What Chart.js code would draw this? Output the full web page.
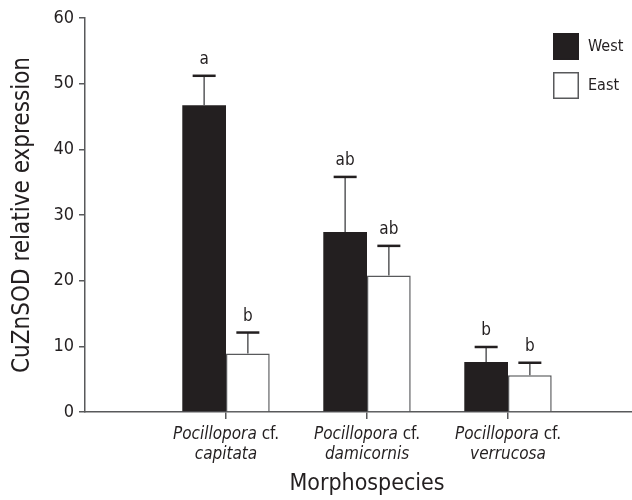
<!DOCTYPE html>
<html>
<head>
<meta charset="utf-8">
<script src="https://cdn.jsdelivr.net/npm/chart.js@4"></script>
<style>
  html, body { margin: 0; padding: 0; background: #fff; overflow: hidden; }
  #wrap { width: 649px; height: 500px; position: relative; }
</style>
</head>
<body>
<div id="wrap"><canvas id="grafico"></canvas></div>
<script>
// dados (slots vazios nas pontas para o eixo)
const generos = ['', 'Pocillopora', 'Pocillopora', 'Pocillopora', ''];
const especies = ['', 'capitata', 'damicornis', 'verrucosa', ''];
const oeste = [null, 46.7, 27.4, 7.6, null];
const oesteErro = [null, 4.5, 8.4, 2.3, null];
const oesteLetras = ['', 'a', 'ab', 'b', ''];
const leste = [null, 8.9, 20.8, 5.6, null];
const lesteErro = [null, 3.2, 4.5, 1.9, null];
const lesteLetras = ['', 'b', 'ab', 'b', ''];
const yTicks = [0, 10, 20, 30, 40, 50, 60];

const FONTE = "'Liberation Sans Narrow', 'DejaVu Sans Condensed', 'Liberation Sans', sans-serif";
const PRETO = '#231f20';
const CINZA = '#58595b';

const erros = [oesteErro, lesteErro];
const letras = [oesteLetras, lesteLetras];

// barras de erro + letras de significancia
const errorBars = {
  id: 'errorBars',
  afterDatasetsDraw(chart) {
    const ctx = chart.ctx;
    const y = chart.scales.y;
    chart.data.datasets.forEach((ds, di) => {
      const meta = chart.getDatasetMeta(di);
      meta.data.forEach((bar, i) => {
        const v = ds.data[i];
        if (v == null) return;
        const topo = y.getPixelForValue(v + erros[di][i]);
        ctx.save();
        ctx.strokeStyle = CINZA;
        ctx.lineWidth = 1.5;
        ctx.beginPath();
        ctx.moveTo(bar.x, bar.y);
        ctx.lineTo(bar.x, topo);
        ctx.stroke();
        ctx.strokeStyle = PRETO;
        ctx.lineWidth = 2.5;
        ctx.beginPath();
        ctx.moveTo(bar.x - 11.5, topo);
        ctx.lineTo(bar.x + 11.5, topo);
        ctx.stroke();
        ctx.fillStyle = PRETO;
        ctx.font = '17px ' + FONTE;
        ctx.textAlign = 'center';
        ctx.textBaseline = 'middle';
        ctx.fillText(letras[di][i], bar.x, topo - 16);
        ctx.restore();
      });
    });
  }
};

// rotulos do eixo x com genero em italico e "cf." normal
const rotulosX = {
  id: 'rotulosX',
  afterDraw(chart) {
    const ctx = chart.ctx;
    const x = chart.scales.x;
    const base = x.top;
    ctx.save();
    ctx.fillStyle = PRETO;
    ctx.textBaseline = 'alphabetic';
    generos.forEach((g, i) => {
      if (!g) return;
      const px = x.getPixelForTick(i);
      const italico = 'italic 17px ' + FONTE;
      const normal = '17px ' + FONTE;
      ctx.font = italico;
      const w1 = ctx.measureText(g).width;
      ctx.font = normal;
      const w2 = ctx.measureText(' cf.').width;
      const inicio = px - (w1 + w2) / 2;
      ctx.textAlign = 'left';
      ctx.font = italico;
      ctx.fillText(g, inicio, base + 27);
      ctx.font = normal;
      ctx.fillText(' cf.', inicio + w1, base + 27);
      ctx.font = italico;
      ctx.textAlign = 'center';
      ctx.fillText(especies[i], px, base + 47);
    });
    ctx.restore();
  }
};

// legenda dentro da area do grafico
const legenda = {
  id: 'legenda',
  afterDraw(chart) {
    const ctx = chart.ctx;
    ctx.save();
    chart.data.datasets.forEach((ds, i) => {
      const bx = 553, by = 33 + i * 39;
      ctx.fillStyle = ds.backgroundColor;
      ctx.fillRect(bx, by, 26, 27);
      ctx.strokeStyle = ds.borderColor || PRETO;
      ctx.lineWidth = 1.5;
      ctx.strokeRect(bx + 0.75, by + 0.75, 24.5, 25.5);
      ctx.fillStyle = PRETO;
      ctx.font = '16px ' + FONTE;
      ctx.textAlign = 'left';
      ctx.textBaseline = 'middle';
      ctx.fillText(ds.label, bx + 35, by + 14);
    });
    ctx.restore();
  }
};

document.addEventListener('DOMContentLoaded', () => {
  const ctx = document.getElementById('grafico').getContext('2d');
  new Chart(ctx, {
    type: 'bar',
    data: {
      labels: especies,
      datasets: [{
        label: 'West',
        data: oeste,
        backgroundColor: PRETO,
        borderColor: PRETO,
        borderWidth: 0
      }, {
        label: 'East',
        data: leste,
        backgroundColor: '#ffffff',
        borderColor: CINZA,
        borderWidth: 1.5
      }]
    },
    options: {
      responsive: true,
      maintainAspectRatio: false,
      animation: false,
      categoryPercentage: 0.62,
      barPercentage: 1,
      layout: { padding: { top: 18, right: 0, left: 0, bottom: 0 } },
      plugins: {
        legend: { display: false },
        tooltip: { enabled: false }
      },
      scales: {
        x: {
          offset: false,
          afterFit: (s) => { s.height = 88; },
          grid: {
            offset: false,
            drawOnChartArea: false,
            tickLength: 7,
            lineWidth: 1.5,
            tickColor: (c) => (c.index >= 1 && c.index <= 3) ? CINZA : 'rgba(0,0,0,0)'
          },
          border: { color: CINZA, width: 1.5 },
          ticks: { display: false },
          title: {
            display: true,
            text: 'Morphospecies',
            color: PRETO,
            font: { size: 23, family: FONTE },
            padding: { top: 0, bottom: 2 }
          }
        },
        y: {
          min: 0,
          max: 60,
          afterFit: (s) => { s.width = 85; },
          afterBuildTicks: (s) => { s.ticks = yTicks.map(v => ({ value: v })); },
          grid: {
            drawOnChartArea: false,
            tickLength: 6,
            lineWidth: 1.5,
            tickColor: CINZA
          },
          border: { color: CINZA, width: 1.5 },
          ticks: {
            color: PRETO,
            padding: 5,
            font: { size: 18, family: FONTE }
          },
          title: {
            display: true,
            text: 'CuZnSOD relative expression',
            color: PRETO,
            font: { size: 24, family: FONTE },
            padding: { top: 8, bottom: 0 }
          }
        }
      }
    },
    plugins: [errorBars, rotulosX, legenda]
  });
});
</script>
</body>
</html>
